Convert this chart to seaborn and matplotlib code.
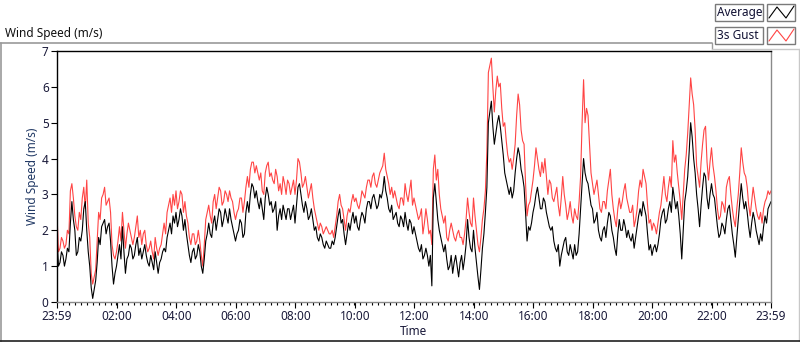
import matplotlib
matplotlib.use("Agg")
import matplotlib.pyplot as plt
from matplotlib.lines import Line2D
from matplotlib.patches import Rectangle
import pandas as pd
import seaborn as sns

# Wind speed (m/s), readings every 6 minutes from 23:59 to 23:59 next day
avg_speed = [
    1.8, 1.1, 1.3, 1.2, 1.4, 2.8, 2.0, 1.4, 1.7, 2.6,   # 00h
    2.0, 1.0, 0.1, 0.6, 1.8, 2.1, 2.3, 2.1, 1.7, 0.5,   # 01h
    1.0, 1.6, 2.1, 0.8, 1.3, 1.5, 1.3, 1.8, 1.5, 1.4,   # 02h
    1.3, 1.0, 1.1, 1.4, 0.8, 1.2, 1.5, 1.8, 2.2, 2.4,   # 03h
    2.5, 2.3, 2.4, 2.3, 1.6, 1.1, 1.5, 1.3, 1.4, 0.8,   # 04h
    1.7, 2.2, 1.8, 2.4, 2.3, 2.5, 2.3, 2.4, 2.6, 2.1,   # 05h
    1.7, 2.0, 2.2, 1.9, 2.8, 3.0, 3.2, 3.1, 2.6, 2.6,   # 06h
    2.9, 3.0, 2.8, 2.6, 2.0, 2.6, 2.7, 2.3, 2.6, 2.5,   # 07h
    2.2, 3.2, 3.0, 2.5, 2.6, 2.4, 2.3, 2.1, 1.7, 1.8,   # 08h
    1.5, 1.6, 1.5, 1.6, 2.1, 2.6, 2.3, 1.6, 2.2, 2.3,   # 09h
    2.2, 2.1, 2.3, 2.4, 2.6, 2.8, 2.9, 2.8, 2.7, 2.9,   # 10h
    3.5, 2.9, 2.5, 2.3, 2.5, 2.1, 2.3, 2.5, 2.0, 2.2,   # 11h
    2.1, 1.7, 1.4, 1.2, 1.5, 1.0, 0.45, 3.3, 2.3, 1.8,  # 12h
    1.4, 1.2, 1.0, 0.8, 1.3, 0.7, 1.3, 1.2, 2.3, 1.5,   # 13h
    2.0, 1.1, 0.35, 1.5, 2.5, 5.0, 5.6, 4.4, 5.0, 4.9,  # 14h
    4.1, 3.4, 3.0, 2.9, 3.6, 4.3, 3.7, 3.2, 1.7, 2.0,   # 15h
    2.5, 3.0, 2.9, 2.6, 2.8, 2.3, 2.0, 1.7, 1.4, 1.0,   # 16h
    1.5, 1.8, 1.3, 1.4, 1.6, 1.4, 2.6, 4.0, 3.4, 3.0,   # 17h
    2.6, 2.3, 2.0, 1.7, 2.1, 2.2, 2.4, 1.8, 1.3, 2.3,   # 18h
    2.0, 2.1, 2.0, 1.7, 1.5, 2.1, 2.6, 2.8, 2.4, 1.45,  # 19h
    1.3, 1.6, 1.6, 2.3, 2.6, 2.3, 2.8, 3.2, 2.6, 2.4,   # 20h
    1.2, 2.8, 3.5, 5.0, 4.0, 3.0, 2.1, 3.2, 3.5, 2.6,   # 21h
    3.3, 2.9, 2.1, 1.9, 2.1, 2.3, 2.7, 1.9, 1.25, 2.3,  # 22h
    3.3, 2.6, 2.5, 1.8, 2.5, 2.0, 1.6, 1.7, 2.4, 2.6,   # 23h
    2.8,
]
# readings 3 minutes after each of the above
avg_speed_mid = [
    1.0, 1.4, 1.0, 1.5, 2.2, 2.3, 1.3, 1.8, 2.0, 2.8,   # 00h
    1.4, 0.4, 0.35, 1.1, 1.6, 2.2, 1.9, 2.2, 1.0, 0.8,  # 01h
    1.3, 1.2, 1.4, 1.2, 1.6, 1.2, 1.6, 1.3, 1.2, 1.6,   # 02h
    1.1, 1.3, 0.9, 1.1, 1.1, 1.4, 1.4, 2.0, 1.9, 2.2,   # 03h
    2.1, 2.6, 2.0, 1.9, 1.3, 1.4, 1.2, 1.6, 1.0, 1.2,   # 04h
    1.9, 1.9, 2.2, 2.0, 2.6, 2.1, 2.6, 2.2, 2.3, 1.9,   # 05h
    1.9, 2.3, 1.8, 2.5, 2.5, 3.3, 2.9, 2.8, 2.9, 2.3,   # 06h
    3.2, 2.7, 2.5, 2.8, 2.4, 2.3, 2.5, 2.6, 2.3, 2.7,   # 07h
    2.7, 3.3, 2.7, 2.8, 2.3, 2.6, 2.0, 1.8, 1.9, 1.6,   # 08h
    1.7, 1.5, 1.7, 1.8, 2.4, 2.2, 1.9, 1.9, 2.0, 2.5,   # 09h
    2.4, 2.0, 2.5, 2.2, 2.8, 2.6, 3.0, 2.6, 3.0, 3.1,   # 10h
    3.1, 2.6, 2.7, 2.4, 2.2, 2.4, 2.1, 2.2, 2.3, 1.9,   # 11h
    1.9, 1.5, 1.6, 1.3, 1.3, 1.3, 2.9, 2.8, 2.0, 1.6,   # 12h
    1.6, 0.9, 1.3, 1.1, 1.0, 1.1, 0.9, 1.6, 1.8, 1.4,   # 13h
    1.5, 0.7, 0.9, 1.9, 3.2, 5.3, 4.9, 4.7, 5.2, 4.5,   # 14h
    3.6, 3.2, 3.2, 3.1, 4.0, 4.1, 3.5, 2.5, 2.1, 2.2,   # 15h
    2.7, 3.2, 2.6, 2.9, 2.5, 2.1, 2.1, 1.5, 1.6, 1.3,   # 16h
    1.7, 1.4, 1.6, 1.2, 1.3, 1.9, 3.3, 3.6, 3.3, 2.7,   # 17h
    2.2, 2.5, 1.8, 2.0, 1.8, 2.5, 2.0, 1.5, 1.9, 2.0,   # 18h
    2.3, 1.8, 1.8, 1.9, 1.8, 2.4, 2.4, 2.6, 1.9, 1.6,   # 19h
    1.5, 1.4, 1.9, 2.5, 2.2, 2.6, 2.5, 2.9, 2.8, 1.9,   # 20h
    2.0, 3.1, 4.2, 4.6, 3.6, 2.6, 2.7, 3.6, 2.9, 3.0,   # 21h
    3.0, 2.5, 1.8, 2.2, 1.9, 2.6, 2.3, 1.6, 1.8, 2.8,   # 22h
    2.9, 2.8, 2.1, 2.2, 2.3, 1.8, 1.9, 2.1, 2.2, 2.7,   # 23h
]
gust_speed = [
    2.45, 1.5, 1.7, 1.6, 1.9, 3.3, 2.4, 2.0, 2.3, 3.2,  # 00h
    3.4, 1.8, 0.5, 0.9, 2.5, 2.9, 3.2, 2.8, 2.5, 1.3,   # 01h
    1.4, 2.1, 2.5, 1.5, 2.2, 1.8, 1.8, 2.4, 2.0, 1.9,   # 02h
    1.6, 1.5, 1.4, 1.8, 1.3, 1.6, 2.2, 2.5, 2.9, 3.0,   # 03h
    3.1, 2.8, 3.0, 2.8, 2.2, 1.6, 1.9, 1.7, 1.7, 1.0,   # 04h
    2.3, 2.7, 2.2, 3.0, 2.9, 3.1, 2.8, 3.0, 3.1, 2.8,   # 05h
    2.3, 2.6, 2.9, 2.8, 3.5, 3.7, 3.9, 3.8, 3.4, 3.1,   # 06h
    3.6, 3.9, 3.6, 3.3, 3.5, 3.3, 3.5, 3.0, 3.3, 3.2,   # 07h
    3.0, 4.0, 3.6, 3.3, 3.2, 3.1, 2.9, 2.4, 2.0, 2.1,   # 08h
    2.0, 2.0, 1.9, 1.8, 2.4, 3.0, 2.6, 2.0, 2.6, 2.8,   # 09h
    2.8, 2.7, 2.8, 3.0, 3.2, 3.4, 3.5, 3.3, 3.4, 3.7,   # 10h
    4.15, 3.5, 3.0, 2.9, 2.9, 2.6, 2.9, 3.3, 2.8, 3.4,  # 11h
    2.9, 2.5, 2.4, 1.9, 2.6, 1.9, 1.6, 4.1, 3.7, 2.6,   # 12h
    2.2, 1.8, 2.0, 2.0, 1.7, 2.0, 1.8, 1.9, 2.9, 2.2,   # 13h
    2.9, 2.0, 1.4, 2.3, 3.1, 6.4, 6.8, 5.3, 6.3, 6.1,   # 14h
    4.9, 4.5, 3.9, 3.7, 4.4, 5.8, 4.8, 4.4, 2.4, 2.8,   # 15h
    3.4, 4.3, 3.7, 3.9, 4.0, 3.0, 3.3, 2.8, 3.2, 2.4,   # 16h
    3.5, 2.7, 2.5, 2.4, 2.6, 2.3, 3.5, 6.2, 5.4, 4.4,   # 17h
    3.3, 3.2, 3.0, 2.5, 2.8, 3.1, 3.7, 2.6, 2.1, 2.9,   # 18h
    2.8, 3.3, 2.7, 2.5, 2.1, 2.6, 3.4, 3.7, 3.3, 2.2,   # 19h
    2.0, 2.1, 2.2, 2.7, 3.5, 2.8, 3.5, 4.5, 4.1, 3.2,   # 20h
    2.3, 3.7, 4.7, 6.25, 5.5, 3.8, 3.2, 4.4, 4.9, 3.4,  # 21h
    4.3, 3.5, 2.6, 2.4, 2.7, 3.2, 3.5, 2.6, 2.1, 3.0,   # 22h
    4.3, 3.6, 3.2, 2.4, 3.2, 2.6, 2.3, 2.2, 2.8, 3.1,   # 23h
    3.1,
]
gust_speed_mid = [
    1.4, 1.8, 1.5, 2.0, 3.1, 2.9, 2.1, 2.5, 2.9, 2.6,   # 00h
    2.2, 0.8, 0.7, 1.7, 2.3, 3.0, 2.7, 2.9, 1.6, 1.2,   # 01h
    1.7, 1.7, 2.0, 1.9, 2.0, 1.6, 2.1, 1.8, 1.6, 2.0,   # 02h
    1.4, 1.7, 1.2, 1.5, 1.5, 1.9, 1.9, 2.7, 2.5, 2.7,   # 03h
    2.6, 3.1, 2.5, 2.4, 1.8, 1.9, 1.6, 2.0, 1.3, 1.6,   # 04h
    2.5, 2.4, 2.8, 2.6, 3.2, 2.7, 3.1, 2.8, 2.9, 2.5,   # 05h
    2.5, 2.9, 2.5, 3.2, 3.2, 3.9, 3.6, 3.6, 3.6, 3.0,   # 06h
    3.8, 3.5, 3.4, 3.7, 3.1, 3.0, 3.3, 3.4, 3.0, 3.4,   # 07h
    3.4, 3.9, 3.2, 3.5, 2.9, 3.3, 2.6, 2.2, 2.2, 1.9,   # 08h
    2.1, 1.9, 2.0, 2.1, 2.8, 2.7, 2.3, 2.4, 2.5, 3.0,   # 09h
    2.9, 2.6, 3.1, 2.9, 3.4, 3.2, 3.6, 3.2, 3.6, 3.8,   # 10h
    3.7, 3.3, 3.2, 3.1, 2.7, 2.9, 2.7, 3.0, 3.1, 2.7,   # 11h
    2.7, 2.3, 2.6, 2.2, 2.3, 2.0, 3.7, 3.4, 3.0, 2.4,   # 12h
    2.4, 1.7, 2.2, 1.8, 1.9, 1.8, 1.6, 2.3, 2.5, 2.1,   # 13h
    2.4, 1.6, 1.8, 2.6, 4.2, 6.6, 6.0, 5.9, 6.0, 5.4,   # 14h
    5.0, 4.1, 4.0, 4.0, 5.2, 5.5, 4.5, 3.3, 2.7, 3.1,   # 15h
    3.8, 4.0, 3.5, 3.6, 3.5, 3.4, 2.9, 3.0, 2.7, 2.9,   # 16h
    3.0, 2.3, 2.8, 2.2, 2.4, 2.8, 5.0, 5.0, 5.2, 3.6,   # 17h
    3.0, 3.4, 2.6, 2.8, 2.6, 3.4, 3.0, 2.3, 2.6, 2.6,   # 18h
    3.1, 2.9, 2.5, 2.7, 2.3, 3.1, 3.2, 3.5, 2.7, 2.3,   # 19h
    2.2, 1.9, 2.5, 3.1, 3.0, 3.2, 3.2, 3.9, 3.6, 2.8,   # 20h
    3.0, 4.1, 5.5, 5.8, 4.8, 3.5, 3.9, 4.8, 3.9, 3.9,   # 21h
    3.8, 3.1, 2.3, 2.8, 2.5, 3.4, 3.0, 2.3, 2.6, 3.6,   # 22h
    3.9, 3.5, 2.7, 2.8, 2.9, 2.4, 2.5, 2.6, 2.9, 3.0,   # 23h
]
tick_labels = ["23:59", "02:00", "04:00", "06:00", "08:00", "10:00", "12:00",
               "14:00", "16:00", "18:00", "20:00", "22:00", "23:59"]
series_names = ["Average", "3s Gust"]
series_colors = ["black", "#ff4444"]

# put the on-the-6-minute and the in-between readings into one time series
t_main = pd.date_range("2015-06-01 23:59", periods=len(avg_speed), freq="6min")
t_mid = pd.date_range("2015-06-02 00:02", periods=len(avg_speed_mid), freq="6min")
df = pd.concat([
    pd.DataFrame({"Time": t_main, "Average": avg_speed, "3s Gust": gust_speed}),
    pd.DataFrame({"Time": t_mid, "Average": avg_speed_mid, "3s Gust": gust_speed_mid}),
]).sort_values("Time").reset_index(drop=True)

sns.set_style("white")
plt.rcParams["font.family"] = ["Noto Sans", "DejaVu Sans"]

W, H = 800, 342
fig = plt.figure(figsize=(W / 100, H / 100), dpi=100)

def fx(px):
    return px / W

def fy(py):
    return 1 - py / H

ax = fig.add_axes([fx(57), fy(302), fx(771 - 57), (302 - 51) / H])

# gust first so the average sits on top
sns.lineplot(data=df, x="Time", y="3s Gust", color=series_colors[1], lw=0.8, ax=ax)
sns.lineplot(data=df, x="Time", y="Average", color=series_colors[0], lw=0.8, ax=ax)

ax.set_xlim(t_main[0], t_main[-1])
ax.set_ylim(0, 7)
ax.set_yticks(range(0, 8))
major = [t_main[0]] + list(pd.date_range("2015-06-02 02:00", periods=11, freq="2h")) + [t_main[-1]]
ax.set_xticks(major)
ax.set_xticklabels(tick_labels)
minor = pd.date_range("2015-06-02 00:11", "2015-06-02 23:47", freq="12min")
ax.set_xticks(minor, minor=True)

label_color = "#1a1a3a"
ax.tick_params(axis="both", which="major", direction="out", length=4, width=0.8,
               color="black", labelsize=8.5, labelcolor=label_color, pad=2)
ax.tick_params(axis="x", which="minor", direction="out", length=2.2, width=0.8,
               color="black", bottom=True)
ax.tick_params(axis="x", which="major", bottom=True, length=4)
ax.tick_params(axis="y", left=True)

for side in ["top", "left"]:
    ax.spines[side].set_color("black")
    ax.spines[side].set_linewidth(1.0)
for side in ["bottom", "right"]:
    ax.spines[side].set_color("#8a8a8a")
    ax.spines[side].set_linewidth(1.0)

ax.set_xlabel("Time", fontsize=8.5, color=label_color, labelpad=1)
ax.set_ylabel("Wind Speed (m/s)", fontsize=8.5, color="#203864", labelpad=2)

# outer frame of the panel
frame = "#9a9a9a"
fig.add_artist(Line2D([0, fx(712)], [fy(42.5), fy(42.5)], color=frame, lw=1.2))
fig.add_artist(Line2D([fx(0.7), fx(0.7)], [fy(42.5), 0], color=frame, lw=1.2))
fig.add_artist(Line2D([fx(712), fx(712)], [fy(42.5), fy(49.3)], color=frame, lw=1.0))
fig.add_artist(Line2D([fx(712), 1], [fy(49.3), fy(49.3)], color="#c8c8c8", lw=1.0))
fig.add_artist(Line2D([fx(799.3), fx(799.3)], [fy(49.3), 0], color="#c8c8c8", lw=1.0))
fig.add_artist(Line2D([0, 1], [fy(341.3), fy(341.3)], color="#202020", lw=1.2))

fig.text(fx(5), fy(33), "Wind Speed (m/s)", fontsize=8.5, color="#111111",
         ha="left", va="center")

# legend: label box + line-sample box for each series
for i, (name, col) in enumerate(zip(series_names, series_colors)):
    top = 4 + i * 23
    fig.add_artist(Rectangle((fx(715), fy(top + 17)), fx(48), 17 / H,
                             facecolor="white", edgecolor="#7a7a7a", lw=1.0))
    fig.text(fx(717), fy(top + 8.5), name, fontsize=8.5, color="#111133",
             ha="left", va="center")
    fig.add_artist(Rectangle((fx(767), fy(top + 17)), fx(28), 17 / H,
                             facecolor="white", edgecolor="#7a7a7a", lw=1.0))
    zx = [769, 777, 786, 794]
    zy = [top + 14, top + 3, top + 14, top + 2]
    fig.add_artist(Line2D([fx(v) for v in zx], [fy(v) for v in zy], color=col, lw=0.8))

fig.savefig("out.png", dpi=100)
